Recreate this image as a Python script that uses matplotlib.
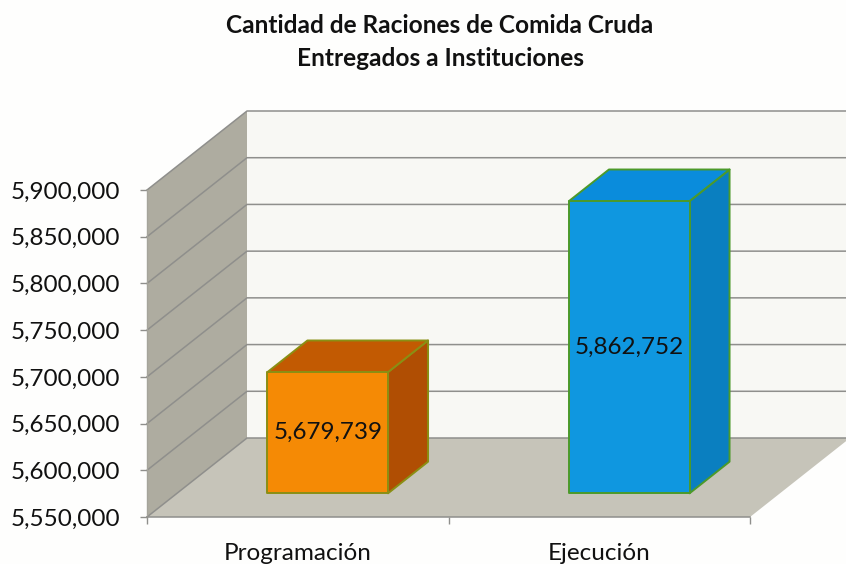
import matplotlib
matplotlib.use("Agg")
import matplotlib.pyplot as plt
from matplotlib.patches import Polygon
from matplotlib.ticker import FuncFormatter

categories = ["Programación", "Ejecución"]
values = [5679739, 5862752]
value_labels = ["5,679,739", "5,862,752"]
ticks = [5550000, 5600000, 5650000, 5700000, 5750000, 5800000, 5850000, 5900000]
title = "Cantidad de Raciones de Comida Cruda\nEntregados a Instituciones"

FONT = "Lato"
W, H = 846, 564
fig = plt.figure(figsize=(W / 100, H / 100), dpi=100, facecolor="#fefefd")
ax = fig.add_axes([147 / W, (H - 517) / H, (750 - 147) / W, (517 - 190) / H])
ax.set_xlim(0, 2)
ax.set_ylim(5550000, 5900000)
ax.patch.set_visible(False)
for s in ax.spines.values():
    s.set_visible(False)

DX = 100 / 301.5
DY = 79 / 327 * 350000


def p(x, v, d):
    return (x + d * DX, v + d * DY)


def poly(pts, fc, ec="none", lw=0, z=1):
    ax.add_patch(Polygon(pts, closed=True, facecolor=fc, edgecolor=ec, linewidth=lw,
                         clip_on=False, zorder=z, joinstyle="round"))


lo, hi = ticks[0], ticks[-1]
# walls and floor
poly([p(0, lo, 0), p(0, hi, 0), p(0, hi, 1), p(0, lo, 1)], "#aeaca0")
poly([p(0, lo, 1), p(0, hi, 1), p(2, hi, 1), p(2, lo, 1)], "#f8f8f4")
poly([p(0, lo, 0), p(2, lo, 0), p(2, lo, 1), p(0, lo, 1)], "#c6c4b9")

# gridlines
for t in ticks:
    ax.plot(*zip(p(0, t, 0), p(0, t, 1), p(2, t, 1)), color="#8f8f8c", lw=1.1,
            clip_on=False, zorder=2)
ax.plot(*zip(p(0, lo, 0), p(0, hi, 0)), color="#a5a49b", lw=1, clip_on=False, zorder=2)
ax.plot(*zip(p(0, lo, 0), p(2, lo, 0)), color="#8f8f8c", lw=1.1, clip_on=False, zorder=2)

# bars
bar_w = 0.4
d0, d1 = 0.3, 0.7
fronts = ["#f58a05", "#0f97e0"]
tops = ["#c25a02", "#0a8cdc"]
sides = ["#b04e03", "#0a7fc0"]
edges = ["#8a8f14", "#4c9a2a"]
for i, v in enumerate(values):
    l, r = i + 0.5 - bar_w / 2, i + 0.5 + bar_w / 2
    poly([p(r, lo, d0), p(r, v, d0), p(r, v, d1), p(r, lo, d1)], sides[i], edges[i], 1.4, 3)
    poly([p(l, v, d0), p(r, v, d0), p(r, v, d1), p(l, v, d1)], tops[i], edges[i], 1.4, 3)
    poly([p(l, lo, d0), p(r, lo, d0), p(r, v, d0), p(l, v, d0)], fronts[i], edges[i], 1.4, 4)
    tx, ty = p(i + 0.5, (lo + v) / 2, d0)
    ax.text(tx, ty, value_labels[i], ha="center", va="center", fontsize=17.5,
            family=FONT, color="#111111", zorder=5)

ax.set_xticks([0, 1, 2])
ax.set_xticklabels([])
ax.tick_params(axis="x", length=5, color="#8f8f8c", width=1)
for i, c in enumerate(categories):
    ax.annotate(c, xy=(i + 0.5, lo), xytext=(0, -36), textcoords="offset pixels",
                ha="center", va="center", fontsize=17.5, family=FONT, color="#111111",
                annotation_clip=False)
ax.set_yticks(ticks)
ax.yaxis.set_major_formatter(FuncFormatter(lambda v, _: f"{int(v):,}"))
ax.tick_params(axis="y", length=5, width=1, color="#8f8f8c", pad=14, labelsize=17.5,
               labelcolor="#111111")
for lab in ax.get_yticklabels():
    lab.set_family(FONT)

fig.text(440 / W, 1 - 42 / H, title, ha="center", va="center", fontsize=17.6, fontweight="bold",
         family=FONT, color="#111111", linespacing=1.5)

fig.savefig("out.png", dpi=100, facecolor=fig.get_facecolor())
